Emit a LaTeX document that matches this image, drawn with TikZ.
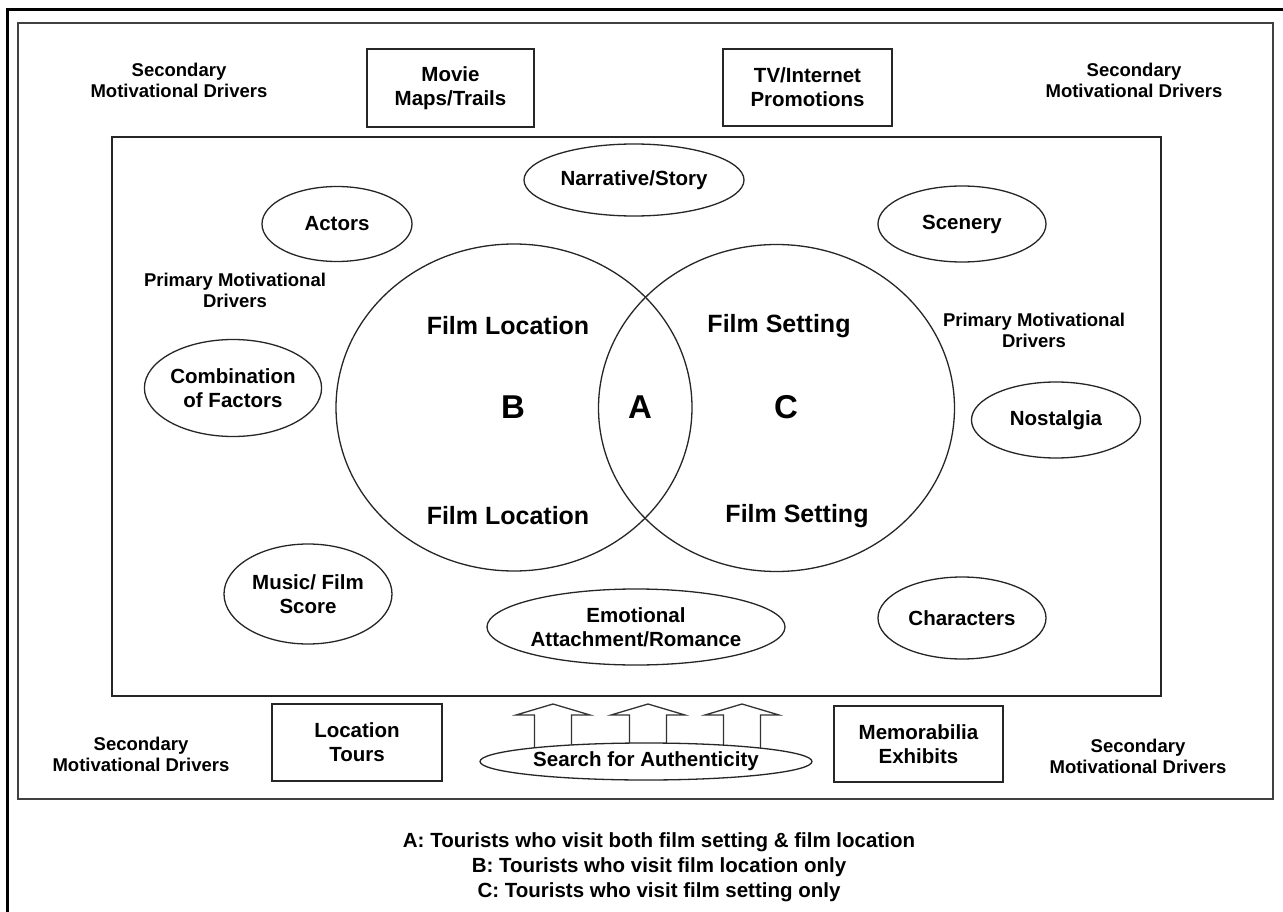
\documentclass[tikz,border=0pt]{standalone}
\usepackage{fontspec}
\setmainfont{Liberation Sans}
\usetikzlibrary{shapes.geometric}
\begin{document}
\begin{tikzpicture}[x=1pt,y=-1pt,
  lbl/.style={font=\fontsize{20.5}{24}\selectfont\bfseries, align=center},
  sec/.style={font=\fontsize{18.5}{21}\selectfont\bfseries, align=center},
  venntxt/.style={font=\fontsize{25}{28}\selectfont\bfseries},
  vennlet/.style={font=\fontsize{33}{36}\selectfont\bfseries},
  oval/.style={draw=black!85, ellipse, line width=1.3pt, inner sep=0pt, fill=white, lbl},
  box/.style={draw=black!85, rectangle, line width=1.5pt, inner sep=0pt, lbl},
  venn/.style={draw=black!85, ellipse, line width=1.3pt, inner sep=0pt, minimum width=356, minimum height=327},
  blockarrow/.style={draw=black!80, line width=1.3pt, fill=white, line join=miter}
]
\fill[white] (0,0) rectangle (1283,912);
\useasboundingbox (0,0) rectangle (1283,912);

% frames
\draw[line width=3pt] (7.5,912) -- (7.5,9.5) -- (1283,9.5);
\draw[line width=1.8pt, black!75] (18,23) rectangle (1273,799);
\draw[line width=1.5pt, black!85] (112,137) rectangle (1161,696);

% secondary drivers
\node[sec] (secTL) at (179,80) {Secondary\\Motivational Drivers};
\node[sec] (secTR) at (1134,80) {Secondary\\Motivational Drivers};
\node[sec] (secBL) at (141,754) {Secondary\\Motivational Drivers};
\node[sec] (secBR) at (1138,756) {Secondary\\Motivational Drivers};

% boxes
\node[box, minimum width=167, minimum height=78] (movie) at (450.5,88) {Movie\\Maps/Trails};
\node[box, minimum width=169, minimum height=77] (tv) at (807.5,87.5) {TV/Internet\\Promotions};
\node[box, minimum width=170, minimum height=77] (loc) at (357,742.5) {Location\\Tours};
\node[box, minimum width=169, minimum height=76] (memo) at (918.5,744) {Memorabilia\\Exhibits};

% primary drivers
\node[sec] (primL) at (235,290) {Primary Motivational\\Drivers};
\node[sec] (primR) at (1034,330) {Primary Motivational\\Drivers};

% ellipses
\node[oval, minimum width=150, minimum height=75] (actors) at (337,224) {Actors};
\node[oval, minimum width=220, minimum height=72] (narr) at (634,180) {Narrative/Story};
\node[oval, minimum width=168, minimum height=76] (scen) at (962,224) {Scenery};
\node[oval, minimum width=170, minimum height=97] (comb) at (233,388) {Combination\\of Factors};
\node[oval, minimum width=169, minimum height=76] (nost) at (1056,420) {Nostalgia};
\node[oval, minimum width=168, minimum height=100] (music) at (308,594) {Music/ Film\\Score};
\node[oval, minimum width=168, minimum height=82] (chars) at (962,618) {Characters};
\node[oval, minimum width=262, minimum height=76] (emot) at (636,627) {Emotional\\Attachment/Romance};

% venn
\node[venn] (vl) at (514,407.5) {};
\node[venn] (vr) at (776.5,408) {};
\node[venntxt] (flt) at (508,326) {Film Location};
\node[venntxt] (flb) at (508,516) {Film Location};
\node[venntxt] (fst) at (779,326) {Film Setting};
\node[venntxt] (fsb) at (797,516) {Film Setting};
\node[vennlet] (b) at (513,407) {B};
\node[vennlet] (a) at (640,407) {A};
\node[vennlet] (c) at (786,407) {C};

% block arrows
\foreach \cx in {553,648,742}{
  \draw[blockarrow] (\cx-18.5,752) -- (\cx-18.5,715) -- (\cx-37,715) -- (\cx,704) -- (\cx+37,715) -- (\cx+18.5,715) -- (\cx+18.5,752);
}
\node[oval, minimum width=332, minimum height=37] (search) at (646,761.5) {Search for Authenticity};

% legend
\node[font=\fontsize{20.5}{25}\selectfont\bfseries, align=center] (legend) at (659,867) {A: Tourists who visit both film setting \& film location\\B: Tourists who visit film location only\\C: Tourists who visit film setting only};
\end{tikzpicture}
\end{document}
